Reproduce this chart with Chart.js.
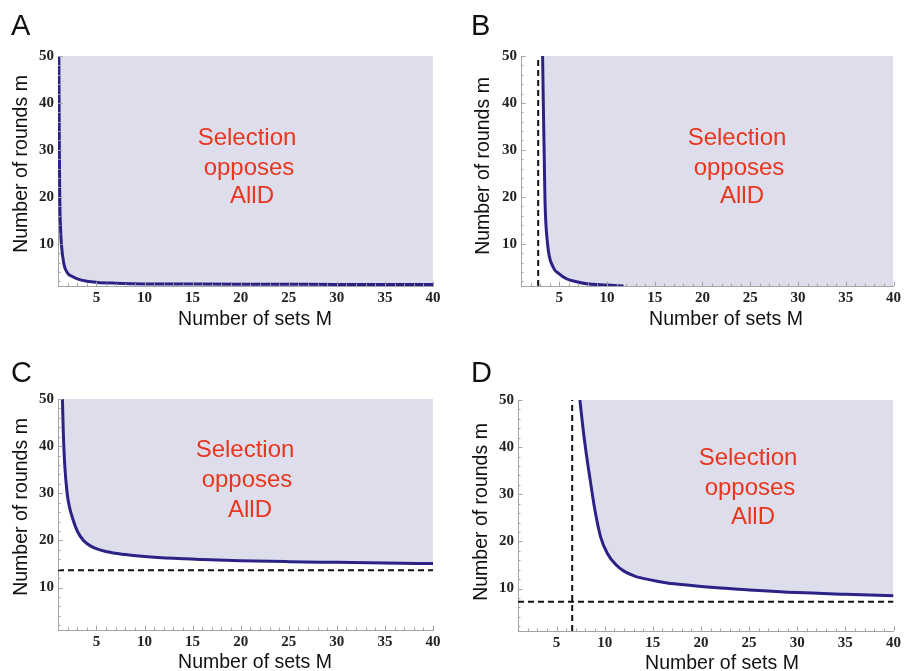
<!DOCTYPE html>
<html><head><meta charset="utf-8">
<script src="https://cdn.jsdelivr.net/npm/chart.js@4/dist/chart.umd.min.js"></script>
<style>
html,body{margin:0;padding:0;background:#fff;}
#wrap{position:relative;width:904px;height:671px;overflow:hidden;background:#fff;}
canvas{position:absolute;}
</style></head><body>
<div id="wrap">
<canvas id="cA" width="452" height="335" style="left:0;top:0;width:452px;height:335px"></canvas>
<canvas id="cB" width="452" height="335" style="left:452px;top:0;width:452px;height:335px"></canvas>
<canvas id="cC" width="452" height="336" style="left:0;top:335px;width:452px;height:336px"></canvas>
<canvas id="cD" width="452" height="336" style="left:452px;top:335px;width:452px;height:336px"></canvas>
</div>
<script>
// ---------------- data ----------------
const xTickLabels = [5, 10, 15, 20, 25, 30, 35, 40];
const yTickLabels = [10, 20, 30, 40, 50];
const xRange = [1, 40];
const yRange = [1, 50];
const xTitle = 'Number of sets M';
const yTitle = 'Number of rounds m';
const regionLabel = ['Selection', 'opposes', 'AllD'];

// Panel A boundary curve
const panelA_M = [1.09, 1.11, 1.14, 1.18, 1.25, 1.35, 1.6, 1.95, 2.5, 3.0, 4.0, 5.07, 7.0, 10.0, 15.0, 20.0, 30.0, 40.0];
const panelA_m = [50, 40, 30, 20, 14, 10, 5.8, 3.9, 3.0, 2.5, 2.0, 1.77, 1.6, 1.45, 1.4, 1.37, 1.34, 1.32];

// Panel B boundary curve + region continuing along the floor
const panelB_M = [3.26, 3.33, 3.42, 3.51, 3.78, 4.37, 5.0, 5.76, 6.8, 7.84, 10.0, 11.74];
const panelB_m = [50, 40.6, 30, 19.3, 10, 5, 3.6, 2.55, 1.9, 1.49, 1.2, 1.0];
const panelB_floorM = [40];
const panelB_floorm = [1];
const panelB_guideM = [2.8];

// Panel C boundary curve
const panelC_M = [1.46, 1.55, 1.7, 1.95, 2.2, 2.5, 3.0, 3.65, 4.5, 6.1, 8, 10, 13, 16, 20, 25, 30, 35, 40];
const panelC_m = [50, 43, 36, 30, 27, 24.8, 22, 20, 18.7, 17.6, 17.0, 16.6, 16.2, 15.95, 15.7, 15.5, 15.35, 15.2, 15.1];
const panelC_guidem = [13.7];

// Panel D boundary curve
const panelD_M = [7.43, 7.75, 8.1, 8.5, 9.0, 9.6, 10.3, 11.1, 12.0, 13.2, 14.6, 16.5, 18.8, 22, 25, 30, 35, 40];
const panelD_m = [50, 44, 38.5, 33, 26.5, 20.8, 17.4, 15.2, 13.7, 12.6, 11.9, 11.2, 10.7, 10.1, 9.7, 9.15, 8.8, 8.5];
const panelD_guideM = [6.63];
const panelD_guidem = [7.2];

// ---------------- styling ----------------
const FILL = 'rgb(221,221,236)';
const CURVE = '#2c2286';
const AXIS = '#a3a3a3';
const RED = '#e8361f';
const SANS = '"Liberation Sans", Arial, Helvetica, sans-serif';
const SERIF = '"Liberation Serif", "Times New Roman", serif';

function pts(xs, ys) { return xs.map((v, i) => ({x: v, y: ys[i]})); }

function curveSet(xs, ys, fill) {
  return {data: pts(xs, ys), borderColor: CURVE, borderWidth: 3, pointRadius: 0,
    cubicInterpolationMode: 'monotone', fill: fill ? 'end' : false, backgroundColor: FILL, order: 1};
}
function fillSet(xs, ys) {
  return {data: pts(xs, ys), borderWidth: 0, borderColor: 'rgba(0,0,0,0)', pointRadius: 0,
    cubicInterpolationMode: 'monotone', fill: 'end', backgroundColor: FILL, order: 3};
}
function dashSet(xs, ys) {
  return {data: pts(xs, ys), borderColor: '#111', borderWidth: 2, borderDash: [6, 4],
    pointRadius: 0, tension: 0, fill: false, order: 2};
}

const decor = {
  id: 'decor',
  afterDraw(chart, args, o) {
    const {ctx, chartArea: ca, scales: {x, y}} = chart;
    ctx.save();
    // inward tick marks (Mathematica style)
    ctx.strokeStyle = AXIS; ctx.lineWidth = 1;
    ctx.beginPath();
    for (let v = xRange[0] + 1; v <= xRange[1]; v++) {
      const px = Math.round(x.getPixelForValue(v)) + 0.5;
      const len = v % 5 === 0 ? 4.5 : 2.5;
      ctx.moveTo(px, ca.bottom); ctx.lineTo(px, ca.bottom - len);
    }
    for (let v = 2; v <= yRange[1]; v += 2) {
      const py = Math.round(y.getPixelForValue(v)) + 0.5;
      const len = v % 10 === 0 ? 4.5 : 2.5;
      ctx.moveTo(ca.left, py); ctx.lineTo(ca.left + len, py);
    }
    ctx.stroke();
    // panel letter
    ctx.fillStyle = '#111';
    ctx.font = '29px ' + SANS;
    ctx.textAlign = 'left'; ctx.textBaseline = 'alphabetic';
    ctx.fillText(o.letter, o.lx, o.ly);
    // axis titles
    ctx.font = '19.5px ' + SANS;
    ctx.textAlign = 'center';
    ctx.fillText(xTitle, o.xtx, o.xty);
    ctx.save();
    ctx.translate(o.ytx, o.yty); ctx.rotate(-Math.PI / 2);
    ctx.fillText(yTitle, 0, 0);
    ctx.restore();
    // region label
    ctx.fillStyle = RED;
    ctx.font = '24px ' + SANS;
    regionLabel.forEach((t, i) => ctx.fillText(t, o.ax + [-2, 0, 3][i], o.ay[i]));
    ctx.restore();
  }
};

function makeChart(id, datasets, pad, xH, deco) {
  return new Chart(document.getElementById(id), {
    type: 'line',
    data: {datasets},
    plugins: [decor],
    options: {
      responsive: false, animation: false, devicePixelRatio: 1,
      layout: {padding: pad},
      plugins: {legend: {display: false}, tooltip: {enabled: false}, decor: deco},
      scales: {
        x: {type: 'linear', min: xRange[0], max: xRange[1],
          afterBuildTicks: s => { s.ticks = xTickLabels.map(v => ({value: v})); },
          afterFit: s => { s.height = xH; },
          grid: {display: false, drawTicks: false},
          border: {display: true, color: AXIS, width: 1},
          ticks: {padding: 3, maxRotation: 0, autoSkip: false, color: '#222',
            font: {family: SERIF, size: 15, weight: 'bold'}}},
        y: {type: 'linear', min: yRange[0], max: yRange[1],
          afterBuildTicks: s => { s.ticks = yTickLabels.map(v => ({value: v})); },
          afterFit: s => { s.width = 58; },
          grid: {display: false, drawTicks: false},
          border: {display: true, color: AXIS, width: 1},
          ticks: {padding: 4, autoSkip: false, color: '#222',
            font: {family: SERIF, size: 15, weight: 'bold'}}}
      }
    }
  });
}

// Panel A (canvas origin 0,0)
makeChart('cA', [curveSet(panelA_M, panelA_m, true)],
  {left: 0, top: 56, right: 19, bottom: 0}, 49,
  {letter: 'A', lx: 11, ly: 35, xtx: 255, xty: 325, ytx: 27, yty: 164,
   ax: 249, ay: [145, 175, 203]});

// Panel B (canvas origin 452,0)
makeChart('cB', [
    fillSet(panelB_M.concat(panelB_floorM), panelB_m.concat(panelB_floorm)),
    curveSet(panelB_M, panelB_m, false),
    dashSet([panelB_guideM[0], panelB_guideM[0]], [yRange[0], yRange[1]])],
  {left: 11, top: 56, right: 8, bottom: 0}, 49,
  {letter: 'B', lx: 471 - 452, ly: 35, xtx: 726 - 452, xty: 325, ytx: 489 - 452, yty: 166,
   ax: 739 - 452, ay: [145, 175, 203]});

// Panel C (canvas origin 0,335)
makeChart('cC', [
    curveSet(panelC_M, panelC_m, true),
    dashSet([xRange[0], xRange[1]], [panelC_guidem[0], panelC_guidem[0]])],
  {left: 0, top: 64, right: 19, bottom: 0}, 41,
  {letter: 'C', lx: 11, ly: 382 - 335, xtx: 255, xty: 668 - 335, ytx: 27, yty: 507 - 335,
   ax: 247, ay: [457 - 335, 487 - 335, 517 - 335]});

// Panel D (canvas origin 452,335)
makeChart('cD', [
    curveSet(panelD_M, panelD_m, true),
    dashSet([panelD_guideM[0], panelD_guideM[0]], [yRange[0], yRange[1]]),
    dashSet([xRange[0], xRange[1]], [panelD_guidem[0], panelD_guidem[0]])],
  {left: 8, top: 65, right: 9, bottom: 0}, 40,
  {letter: 'D', lx: 471 - 452, ly: 382 - 335, xtx: 722 - 452, xty: 669 - 335, ytx: 487 - 452, yty: 512 - 335,
   ax: 750 - 452, ay: [465 - 335, 495 - 335, 524 - 335]});
</script>
</body></html>
